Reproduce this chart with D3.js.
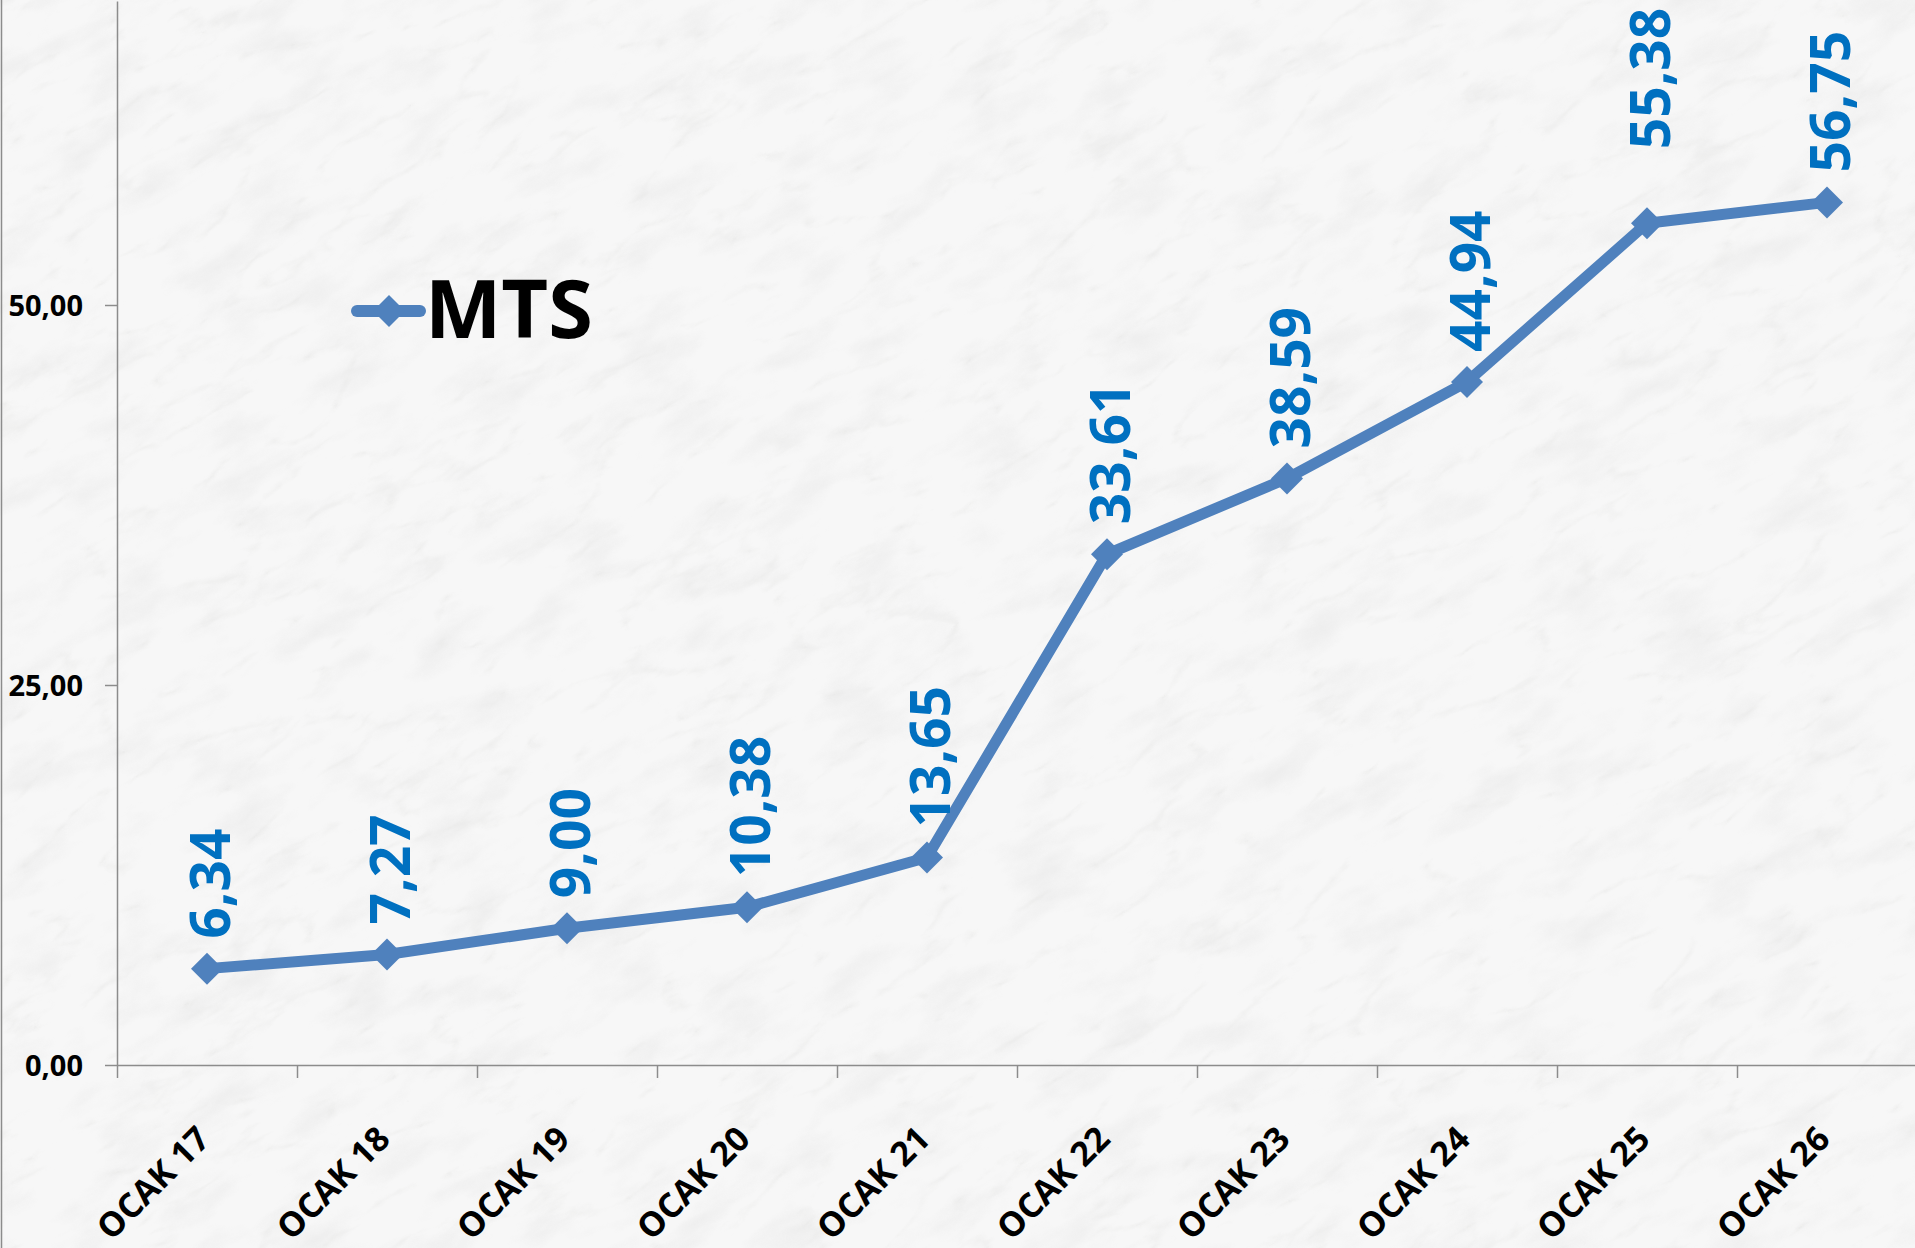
<!DOCTYPE html>
<html>
<head>
<meta charset="utf-8">
<script src="https://cdn.jsdelivr.net/npm/d3@7"></script>
<style>
  html, body { margin: 0; padding: 0; background: #f5f5f5; }
  svg { display: block; }
  text { font-family: "Open Sans", "Noto Sans", sans-serif; font-weight: 700; }
</style>
</head>
<body>
<svg id="chart" width="1915" height="1248"></svg>
<script>
// MTS daily values, OCAK 17 – OCAK 26
const categories = ["OCAK 17", "OCAK 18", "OCAK 19", "OCAK 20", "OCAK 21",
                    "OCAK 22", "OCAK 23", "OCAK 24", "OCAK 25", "OCAK 26"];
const mtsValues = [6.34, 7.27, 9.00, 10.38, 13.65, 33.61, 38.59, 44.94, 55.38, 56.75];
const yTicks = [0, 25, 50];
const seriesName = "MTS";

// extra lift (px) for labels that were moved by hand
const labelNudge = [0, 0, 0, 0, 0, 0, 0, 0, 44, 0];

const W = 1915, H = 1248;
const plot = { left: 117, right: 1917, top: 1, bottom: 1065 };
const lineColor = "#4F81BD";
const labelColor = "#0070C0";
const axisColor = "#8c8c8c";

const fmt = v => v.toFixed(2).replace(".", ",");

const svg = d3.select("#chart");
const defs = svg.append("defs");

// ---- marble background ----
const marble = defs.append("filter").attr("id", "marble")
  .attr("x", 0).attr("y", 0).attr("width", 1).attr("height", 1)
  .attr("filterUnits", "objectBoundingBox");
// thin grey veins
marble.append("feTurbulence").attr("type", "turbulence")
  .attr("baseFrequency", "0.007 0.018").attr("numOctaves", 5).attr("seed", 11)
  .attr("result", "turb");
marble.append("feColorMatrix").attr("in", "turb").attr("type", "matrix")
  .attr("values", "0 0 0 0 0.62  0 0 0 0 0.62  0 0 0 0 0.6  -1.7 0 0 0 0.30")
  .attr("result", "veinLayer");
marble.append("feGaussianBlur").attr("in", "veinLayer").attr("stdDeviation", 0.6).attr("result", "veinSoft");
// soft cloudy patches
marble.append("feTurbulence").attr("type", "fractalNoise")
  .attr("baseFrequency", "0.012 0.03").attr("numOctaves", 4).attr("seed", 3)
  .attr("result", "cloud");
marble.append("feColorMatrix").attr("in", "cloud").attr("type", "matrix")
  .attr("values", "0 0 0 0 0.7  0 0 0 0 0.7  0 0 0 0 0.7  -1.2 0 0 0 0.62")
  .attr("result", "cloudLayer");
const merge = marble.append("feMerge");
merge.append("feMergeNode").attr("in", "cloudLayer");
merge.append("feMergeNode").attr("in", "veinSoft");

const clip = defs.append("clipPath").attr("id", "pageClip");
clip.append("rect").attr("width", W).attr("height", H);

const bg = svg.append("g").attr("clip-path", "url(#pageClip)");
bg.append("rect").attr("width", W).attr("height", H).attr("fill", "#f7f7f7");
bg.append("g")
  .attr("transform", `translate(${W / 2},${H / 2}) rotate(-30)`)
  .append("rect")
  .attr("x", -1400).attr("y", -1200).attr("width", 2800).attr("height", 2400)
  .attr("fill", "#ffffff")
  .attr("filter", "url(#marble)")
  .attr("opacity", 0.6);

// chart area border (left edge)
svg.append("line")
  .attr("x1", 1.5).attr("x2", 1.5).attr("y1", 0).attr("y2", H)
  .attr("stroke", axisColor).attr("stroke-width", 1.5);

// ---- scales ----
const x = d3.scaleBand().domain(categories).range([plot.left, plot.right]);
const xBound = d3.scaleLinear().domain([0, categories.length]).range([plot.left, plot.right]);
const y = d3.scaleLinear().domain([0, 70]).range([plot.bottom, plot.top]);
const cx = c => x(c) + x.bandwidth() / 2;

// ---- y axis ----
const yAxis = svg.append("g")
  .attr("transform", `translate(${plot.left},0)`)
  .call(d3.axisLeft(y).tickValues(yTicks).tickFormat(fmt).tickSize(12).tickSizeOuter(0).tickPadding(22));
yAxis.select(".domain").attr("stroke", axisColor).attr("stroke-width", 1.5);
yAxis.selectAll(".tick line").attr("stroke", axisColor).attr("stroke-width", 1.5);
yAxis.selectAll(".tick text")
  .attr("fill", "#000").attr("font-size", 29).attr("dy", "0.36em")
  .style("font-family", "'Open Sans', sans-serif").style("font-weight", 700);

// ---- x axis: tick marks between categories ----
const xTicksAxis = svg.append("g")
  .attr("transform", `translate(0,${plot.bottom})`)
  .call(d3.axisBottom(xBound).tickValues(d3.range(categories.length + 1))
        .tickSize(13).tickSizeOuter(0).tickFormat(""));
xTicksAxis.select(".domain").attr("stroke", axisColor).attr("stroke-width", 1.5);
xTicksAxis.selectAll(".tick line").attr("stroke", axisColor).attr("stroke-width", 1.5);

// ---- x axis labels ----
const xLabels = svg.append("g")
  .attr("transform", `translate(0,${plot.bottom})`)
  .call(d3.axisBottom(x).tickSize(0).tickSizeOuter(0));
xLabels.select(".domain").remove();
xLabels.selectAll(".tick text")
  .attr("x", 0).attr("y", 0).attr("dy", 0)
  .attr("transform", "translate(5,76) rotate(-45)")
  .attr("text-anchor", "end")
  .attr("fill", "#000").attr("font-size", 34)
  .style("font-family", "'Open Sans', sans-serif").style("font-weight", 700);

// ---- series line ----
const series = categories.map((c, i) => ({ c, v: mtsValues[i], i }));
const line = d3.line().x(d => cx(d.c)).y(d => y(d.v));

svg.append("path")
  .datum(series)
  .attr("d", line)
  .attr("fill", "none")
  .attr("stroke", lineColor)
  .attr("stroke-width", 11)
  .attr("stroke-linejoin", "round")
  .attr("stroke-linecap", "round");

const diamond = d3.symbol().type(d3.symbolSquare).size(16 * 16 * 2);
svg.append("g").selectAll("path")
  .data(series)
  .join("path")
  .attr("d", diamond)
  .attr("transform", d => `translate(${cx(d.c)},${y(d.v)}) rotate(45)`)
  .attr("fill", lineColor);

// ---- value labels ----
svg.append("g").selectAll("text")
  .data(series)
  .join("text")
  .attr("transform", d => `translate(${cx(d.c) + 23},${y(d.v) - 30 - labelNudge[d.i]}) rotate(-90)`)
  .attr("text-anchor", "start")
  .attr("fill", labelColor)
  .attr("font-size", 55)
  .text(d => fmt(d.v));

// ---- legend ----
const legend = svg.append("g").attr("transform", "translate(357,311)");
legend.append("line")
  .attr("x1", 0).attr("x2", 63).attr("y1", 0).attr("y2", 0)
  .attr("stroke", lineColor).attr("stroke-width", 12).attr("stroke-linecap", "round");
legend.append("path")
  .attr("d", diamond)
  .attr("transform", "translate(32,0) rotate(45)")
  .attr("fill", lineColor);
legend.append("text")
  .attr("x", 68).attr("y", 27)
  .attr("fill", "#000").attr("font-size", 81)
  .text(seriesName);
</script>
</body>
</html>
